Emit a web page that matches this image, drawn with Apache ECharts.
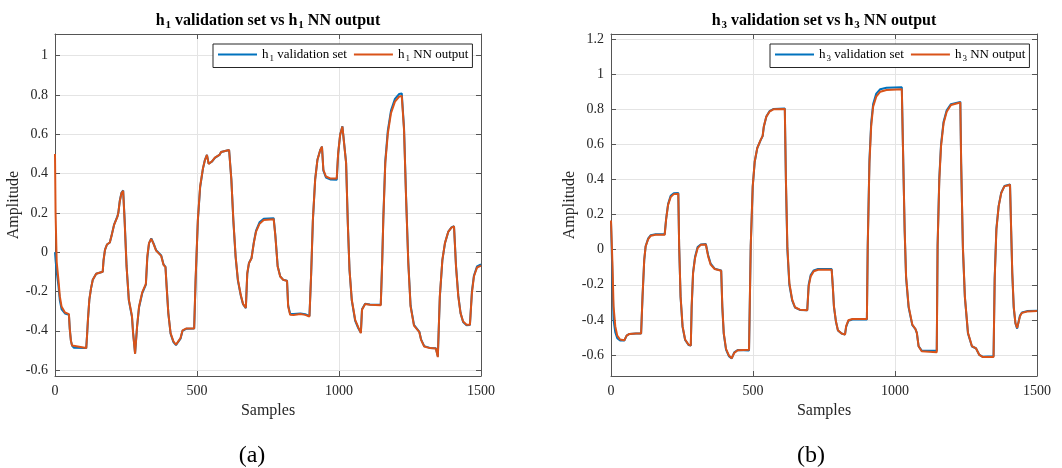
<!DOCTYPE html>
<html><head><meta charset="utf-8">
<script src="https://cdn.jsdelivr.net/npm/echarts@6/dist/echarts.min.js"></script>
<style>html,body{margin:0;padding:0;background:#fff}#c{width:1062px;height:468px}</style>
</head><body><div id="c"></div>
<script>
// ---------- data ----------
const xTicks = [0, 500, 1000, 1500];
const h1Ticks = [-0.6, -0.4, -0.2, 0, 0.2, 0.4, 0.6, 0.8, 1];
const h3Ticks = [-0.6, -0.4, -0.2, 0, 0.2, 0.4, 0.6, 0.8, 1, 1.2];

const h1Names = ['h1 validation set', 'h1 NN output'];
const h3Names = ['h3 validation set', 'h3 NN output'];

const h1Samples = [0,2,6,12,17,23,35,49,52,56,60,66,110,113,116,121,127,133,145,168,171,176,183,193,200,208,220,223,228,234,240,245,252,260,271,275,282,289,296,307,320,325,331,339,347,356,374,382,389,393,399,407,417,426,434,442,449,463,490,495,503,511,521,528,535,541,552,563,579,585,590,613,621,628,636,644,654,662,672,677,683,692,700,708,720,735,770,776,784,793,803,817,821,828,840,864,881,896,902,908,916,924,934,940,945,954,969,992,997,1004,1012,1019,1025,1031,1037,1045,1057,1068,1077,1081,1092,1109,1147,1152,1156,1163,1172,1183,1197,1212,1221,1229,1236,1244,1252,1264,1283,1289,1300,1320,1341,1348,1355,1364,1373,1385,1396,1405,1412,1420,1428,1437,1449,1461,1468,1475,1486,1500];
const h1NNOutput = [0.50,0.20,-0.05,-0.14,-0.225,-0.276,-0.307,-0.315,-0.39,-0.45,-0.475,-0.485,-0.488,-0.42,-0.344,-0.24,-0.183,-0.14,-0.11,-0.10,-0.04,0.012,0.039,0.049,0.088,0.139,0.181,0.20,0.258,0.30,0.312,0.164,-0.073,-0.242,-0.324,-0.412,-0.517,-0.378,-0.276,-0.205,-0.161,-0.022,0.046,0.068,0.042,0.008,-0.019,-0.064,-0.076,-0.175,-0.31,-0.412,-0.454,-0.471,-0.454,-0.437,-0.398,-0.388,-0.388,-0.14,0.164,0.334,0.427,0.469,0.495,0.449,0.461,0.481,0.495,0.51,0.515,0.52,0.368,0.164,-0.022,-0.14,-0.217,-0.263,-0.283,-0.107,-0.056,-0.031,0.046,0.105,0.144,0.164,0.168,0.08,-0.073,-0.124,-0.14,-0.146,-0.276,-0.319,-0.32,-0.315,-0.319,-0.327,-0.107,0.164,0.368,0.469,0.52,0.537,0.419,0.385,0.375,0.375,0.503,0.597,0.639,0.647,0.453,0.147,-0.09,-0.242,-0.344,-0.383,-0.412,-0.293,-0.264,-0.268,-0.27,-0.056,0.164,0.453,0.605,0.707,0.766,0.792,0.795,0.622,0.283,-0.056,-0.276,-0.374,-0.407,-0.446,-0.48,-0.488,-0.49,-0.534,-0.225,-0.039,0.046,0.105,0.125,0.131,-0.073,-0.225,-0.31,-0.353,-0.369,-0.369,-0.208,-0.124,-0.078,-0.068];
const h1Validation = [0.00,-0.04,-0.10,-0.17,-0.245,-0.29,-0.312,-0.318,-0.39,-0.45,-0.475,-0.486,-0.488,-0.42,-0.344,-0.24,-0.183,-0.14,-0.11,-0.10,-0.04,0.012,0.039,0.049,0.09,0.14,0.183,0.20,0.26,0.302,0.314,0.17,-0.07,-0.245,-0.33,-0.41,-0.515,-0.38,-0.28,-0.21,-0.165,-0.03,0.045,0.07,0.045,0.01,-0.017,-0.062,-0.075,-0.17,-0.31,-0.415,-0.458,-0.473,-0.456,-0.44,-0.4,-0.389,-0.388,-0.15,0.16,0.33,0.425,0.47,0.495,0.45,0.46,0.48,0.495,0.51,0.515,0.52,0.37,0.16,-0.025,-0.145,-0.22,-0.265,-0.285,-0.11,-0.055,-0.03,0.05,0.11,0.152,0.17,0.173,0.085,-0.07,-0.123,-0.14,-0.145,-0.27,-0.315,-0.315,-0.312,-0.316,-0.325,-0.11,0.16,0.37,0.47,0.52,0.537,0.415,0.38,0.37,0.368,0.5,0.597,0.64,0.648,0.455,0.15,-0.09,-0.245,-0.35,-0.387,-0.41,-0.29,-0.262,-0.266,-0.268,-0.05,0.17,0.465,0.62,0.72,0.78,0.805,0.808,0.63,0.29,-0.05,-0.27,-0.37,-0.405,-0.444,-0.478,-0.487,-0.489,-0.53,-0.23,-0.04,0.045,0.105,0.126,0.132,-0.07,-0.22,-0.31,-0.355,-0.372,-0.37,-0.2,-0.12,-0.072,-0.062];

const h3Samples = [0,5,9,15,22,32,47,55,65,88,106,111,117,122,131,140,157,189,194,201,210,221,237,240,245,252,261,273,281,284,289,296,305,316,334,342,351,365,388,392,397,405,415,425,434,446,486,492,499,506,515,527,534,538,547,558,573,612,616,621,628,638,648,665,691,696,703,714,729,777,781,785,792,799,812,824,828,836,850,901,904,910,916,923,934,948,970,1024,1028,1034,1039,1048,1061,1072,1077,1083,1094,1147,1150,1156,1162,1171,1182,1197,1230,1233,1239,1246,1257,1271,1285,1290,1297,1308,1347,1351,1357,1365,1374,1385,1405,1409,1413,1418,1424,1430,1436,1440,1447,1465,1500];
const h3NNOutput = [0.167,-0.076,-0.323,-0.436,-0.49,-0.512,-0.516,-0.49,-0.48,-0.478,-0.478,-0.266,-0.057,0.019,0.061,0.08,0.085,0.085,0.171,0.256,0.30,0.317,0.319,0.019,-0.266,-0.436,-0.512,-0.541,-0.546,-0.323,-0.133,-0.047,0.009,0.028,0.03,-0.038,-0.085,-0.11,-0.12,-0.323,-0.474,-0.565,-0.603,-0.619,-0.588,-0.573,-0.571,0.019,0.36,0.503,0.579,0.626,0.649,0.702,0.759,0.787,0.801,0.803,0.398,0.019,-0.19,-0.285,-0.328,-0.342,-0.345,-0.209,-0.152,-0.123,-0.114,-0.114,-0.209,-0.323,-0.408,-0.459,-0.478,-0.484,-0.436,-0.402,-0.395,-0.395,0.019,0.493,0.702,0.816,0.873,0.901,0.911,0.915,0.588,0.114,-0.152,-0.323,-0.427,-0.452,-0.474,-0.55,-0.579,-0.584,0.019,0.398,0.588,0.721,0.787,0.825,0.839,0.493,0.019,-0.266,-0.474,-0.55,-0.562,-0.569,-0.60,-0.611,-0.611,-0.171,0.114,0.247,0.323,0.361,0.37,0.114,-0.133,-0.323,-0.417,-0.446,-0.45,-0.38,-0.36,-0.352,-0.35];
const h3Validation = [0.16,-0.15,-0.40,-0.47,-0.505,-0.518,-0.518,-0.49,-0.48,-0.478,-0.478,-0.27,-0.06,0.02,0.065,0.083,0.088,0.088,0.175,0.26,0.308,0.322,0.323,0.02,-0.27,-0.44,-0.515,-0.543,-0.547,-0.33,-0.13,-0.04,0.015,0.03,0.033,-0.03,-0.08,-0.108,-0.118,-0.33,-0.48,-0.57,-0.607,-0.62,-0.585,-0.572,-0.575,0.02,0.36,0.5,0.58,0.625,0.648,0.7,0.76,0.79,0.803,0.805,0.38,0.0,-0.2,-0.29,-0.33,-0.343,-0.345,-0.2,-0.145,-0.118,-0.11,-0.11,-0.21,-0.325,-0.41,-0.46,-0.478,-0.483,-0.44,-0.405,-0.398,-0.398,0.03,0.51,0.72,0.83,0.89,0.915,0.924,0.926,0.59,0.11,-0.16,-0.33,-0.43,-0.453,-0.475,-0.55,-0.575,-0.576,0.03,0.41,0.6,0.73,0.795,0.83,0.843,0.49,0.01,-0.27,-0.478,-0.552,-0.562,-0.568,-0.6,-0.61,-0.608,-0.16,0.12,0.25,0.325,0.363,0.372,0.11,-0.14,-0.33,-0.42,-0.45,-0.452,-0.375,-0.358,-0.35,-0.348];

// ---------- chart ----------
const F = 'Liberation Serif, Times New Roman, serif';
const BLUE = '#0072BD', ORANGE = '#D95319';
const AX = '#555555', TXT = '#262626', GRIDC = '#e4e4e4';

function pairs(xs, ys) { return xs.map((x, i) => [x, ys[i]]); }

const grids = [
  { left: 55, top: 34, width: 426, height: 342 },
  { left: 611, top: 34, width: 426, height: 342 }
];

function xAxes(gi) {
  return [
    { type: 'value', gridIndex: gi, position: 'bottom', min: xTicks[0], max: xTicks[xTicks.length - 1], interval: 500,
      axisLine: { show: true, onZero: false, lineStyle: { color: AX, width: 1 } },
      axisTick: { show: true, inside: true, length: 5, lineStyle: { color: AX } },
      axisLabel: { color: TXT, fontSize: 14, fontFamily: F, margin: 8, formatter: v => String(v) },
      splitLine: { show: true, lineStyle: { color: GRIDC, width: 1 } },
      name: 'Samples', nameLocation: 'middle', nameGap: 26,
      nameTextStyle: { fontSize: 16, fontFamily: F, color: TXT } },
    { type: 'value', gridIndex: gi, position: 'top', min: xTicks[0], max: xTicks[xTicks.length - 1], interval: 500,
      axisLine: { show: true, onZero: false, lineStyle: { color: AX, width: 1 } },
      axisTick: { show: true, inside: true, length: 5, lineStyle: { color: AX } },
      axisLabel: { show: false }, splitLine: { show: false } }
  ];
}
function yAxes(gi, mn, mx, ticks) {
  return [
    { type: 'value', gridIndex: gi, position: 'left', min: mn, max: mx,
      axisLine: { show: true, onZero: false, lineStyle: { color: AX, width: 1 } },
      axisTick: { show: true, inside: true, length: 5, lineStyle: { color: AX }, customValues: ticks },
      axisLabel: { color: TXT, fontSize: 14, fontFamily: F, margin: 7, customValues: ticks, formatter: v => String(v) },
      splitLine: { show: true, lineStyle: { color: GRIDC, width: 1 } },
      name: 'Amplitude', nameLocation: 'middle', nameGap: 32,
      nameTextStyle: { fontSize: 16, fontFamily: F, color: TXT } },
    { type: 'value', gridIndex: gi, position: 'right', min: mn, max: mx,
      axisLine: { show: true, onZero: false, lineStyle: { color: AX, width: 1 } },
      axisTick: { show: true, inside: true, length: 5, lineStyle: { color: AX }, customValues: ticks },
      axisLabel: { show: false }, splitLine: { show: false } }
  ];
}

const subLegend = { fontSize: 9, fontFamily: F, color: '#000', padding: [9, 0, 0, 1] };
function legend(left, names) {
  return { left: left, top: 44, orient: 'horizontal', icon: 'rect', itemWidth: 39, itemHeight: 2,
    itemGap: 7, padding: [4, 4, 4, 5], borderColor: '#262626', borderWidth: 1, backgroundColor: '#fff',
    data: names,
    formatter: n => n.replace(/^h(\d)/, 'h{sub|$1}'),
    textStyle: { fontFamily: F, fontSize: 13, color: '#000', rich: { sub: subLegend } } };
}
const subTitle = { fontSize: 11, fontWeight: 'bold', fontFamily: F, color: '#000', padding: [10, 0, 0, 1] };
function title(x, n) {
  return { left: x, top: 5, textAlign: 'center',
    text: 'h{sub|' + n + '} validation set vs h{sub|' + n + '} NN output',
    textStyle: { fontFamily: F, fontSize: 16, fontWeight: 'bold', color: '#000', rich: { sub: subTitle } } };
}

const chart = echarts.init(document.getElementById('c'), null, { renderer: 'canvas' });
chart.setOption({
  animation: false,
  backgroundColor: '#fff',
  title: [
    title(263, 1), title(819, 3),
    { text: '(a)', left: 247, top: 439, textAlign: 'center', textStyle: { fontFamily: F, fontSize: 24, fontWeight: 'normal', color: '#000' } },
    { text: '(b)', left: 806, top: 439, textAlign: 'center', textStyle: { fontFamily: F, fontSize: 24, fontWeight: 'normal', color: '#000' } }
  ],
  legend: [legend(213, h1Names), legend(770, h3Names)],
  grid: grids,
  xAxis: [...xAxes(0), ...xAxes(1)],
  yAxis: [...yAxes(0, -0.63, 1.11, h1Ticks), ...yAxes(1, -0.72, 1.23, h3Ticks)],
  series: [
    { name: h1Names[0], type: 'line', xAxisIndex: 0, yAxisIndex: 0, showSymbol: false, color: BLUE, lineStyle: { width: 2, color: BLUE }, data: pairs(h1Samples, h1Validation) },
    { name: h1Names[1], type: 'line', xAxisIndex: 0, yAxisIndex: 0, showSymbol: false, color: ORANGE, lineStyle: { width: 2, color: ORANGE }, data: pairs(h1Samples, h1NNOutput) },
    { name: h3Names[0], type: 'line', xAxisIndex: 2, yAxisIndex: 2, showSymbol: false, color: BLUE, lineStyle: { width: 2, color: BLUE }, data: pairs(h3Samples, h3Validation) },
    { name: h3Names[1], type: 'line', xAxisIndex: 2, yAxisIndex: 2, showSymbol: false, color: ORANGE, lineStyle: { width: 2, color: ORANGE }, data: pairs(h3Samples, h3NNOutput) }
  ]
});
</script></body></html>
